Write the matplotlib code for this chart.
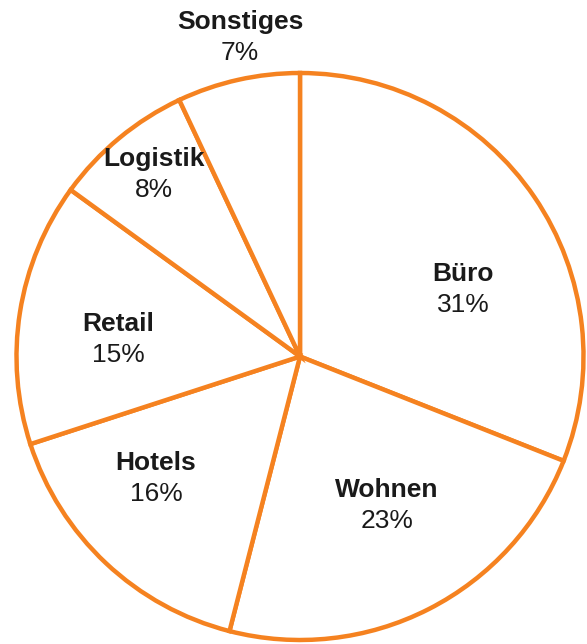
import matplotlib.pyplot as plt

categories = ['Büro', 'Wohnen', 'Hotels', 'Retail', 'Logistik', 'Sonstiges']
shares = [31, 23, 16, 15, 8, 7]
# label centres in pixel coordinates (x, y from top)
label_pos = [(463, 274), (387, 490), (156, 463), (118, 324), (154, 159), (240, 22)]

orange = '#F58220'
W, H = 587, 644

fig = plt.figure(figsize=(W / 100, H / 100), dpi=100)
ax = fig.add_axes([0, 0, 1, 1])

ax.pie(shares, startangle=90, counterclock=False, center=(300, H - 356.5),
       radius=283.5, colors=['white'] * len(shares),
       wedgeprops=dict(edgecolor=orange, linewidth=3.2), frame=True)
ax.set_xlim(0, W)
ax.set_ylim(0, H)
ax.set_aspect('equal')
ax.axis('off')

for name, val, (x, y) in zip(categories, shares, label_pos):
    ax.text(x, H - y, name, ha='center', va='center', fontsize=19,
            fontweight='bold', family='Liberation Sans', color='#1a1a1a')
    ax.text(x, H - y - 31, f'{val}%', ha='center', va='center', fontsize=19,
            family='Liberation Sans', color='#1a1a1a')

fig.savefig('out.png', dpi=100, facecolor='white')
